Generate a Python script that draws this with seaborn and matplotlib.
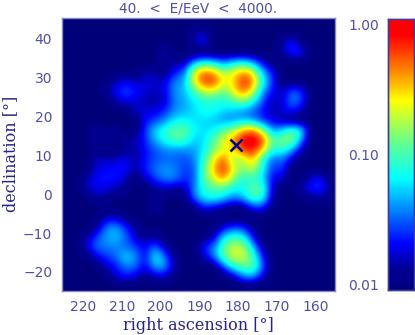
import matplotlib
matplotlib.use('Agg')
import matplotlib.pyplot as plt
import seaborn as sns
from matplotlib.colors import LinearSegmentedColormap

# density on a 2.5 deg grid, as percent of the log colour scale
row_00 = [0, 0, 0, 0, 0, 0, 0, 0, 0, 0, 0, 0, 0, 0, 0, 0, 0, 0, 0, 0, 0, 0, 0, 0, 0, 0, 0, 0]
row_01 = [0, 0, 0, 0, 0, 0, 0, 0, 0, 0, 0, 0, 0, 8, 14, 0, 0, 0, 0, 0, 0, 0, 0, 0, 0, 0, 0, 0]
row_02 = [0, 0, 0, 0, 0, 0, 0, 0, 0, 0, 0, 0, 0, 10, 20, 0, 0, 0, 0, 0, 0, 0, 8, 24, 0, 0, 0, 0]
row_03 = [0, 0, 0, 0, 0, 0, 0, 0, 0, 0, 16, 0, 0, 0, 0, 0, 0, 0, 0, 0, 0, 0, 8, 22, 22, 0, 0, 0]
row_04 = [0, 0, 0, 0, 0, 0, 0, 0, 0, 0, 8, 6, 8, 30, 40, 36, 26, 36, 40, 30, 14, 0, 0, 0, 0, 0, 0, 0]
row_05 = [0, 0, 0, 0, 0, 0, 0, 0, 10, 10, 0, 20, 24, 68, 84, 78, 60, 68, 80, 70, 34, 20, 0, 0, 0, 0, 0, 0]
row_06 = [0, 0, 0, 0, 0, 10, 18, 10, 14, 12, 14, 30, 32, 70, 90, 90, 70, 72, 92, 84, 45, 22, 0, 0, 0, 0, 0, 0]
row_07 = [0, 0, 0, 0, 8, 18, 24, 20, 14, 12, 14, 32, 34, 50, 65, 68, 52, 70, 85, 70, 32, 18, 10, 28, 22, 0, 0, 0]
row_08 = [0, 0, 0, 0, 0, 10, 18, 12, 10, 8, 12, 30, 32, 40, 44, 44, 44, 50, 60, 45, 24, 10, 12, 30, 24, 0, 0, 0]
row_09 = [0, 0, 0, 0, 0, 0, 0, 14, 14, 14, 20, 30, 34, 38, 44, 44, 38, 35, 30, 26, 18, 10, 14, 20, 12, 0, 0, 0]
row_10 = [0, 0, 0, 0, 0, 0, 0, 0, 18, 22, 30, 40, 42, 38, 38, 35, 30, 30, 34, 30, 20, 14, 8, 0, 0, 0, 0, 0]
row_11 = [0, 0, 0, 8, 0, 6, 0, 0, 22, 38, 46, 54, 54, 42, 38, 40, 52, 60, 78, 85, 62, 30, 38, 52, 44, 0, 0, 0]
row_12 = [0, 0, 0, 10, 10, 0, 12, 10, 20, 34, 44, 52, 50, 36, 38, 52, 68, 80, 97, 100, 92, 52, 58, 62, 30, 0, 0, 0]
row_13 = [0, 0, 0, 0, 0, 0, 8, 8, 18, 24, 30, 30, 30, 32, 40, 56, 66, 72, 90, 94, 76, 44, 48, 34, 12, 0, 0, 0]
row_14 = [0, 0, 0, 14, 12, 12, 16, 8, 18, 24, 26, 26, 24, 28, 46, 70, 88, 58, 62, 78, 46, 24, 28, 12, 0, 0, 0, 0]
row_15 = [0, 0, 0, 14, 16, 18, 20, 8, 20, 28, 32, 30, 22, 24, 52, 76, 92, 70, 56, 66, 44, 20, 24, 0, 0, 0, 0, 0]
row_16 = [0, 0, 10, 18, 20, 18, 12, 0, 12, 22, 30, 30, 20, 24, 52, 66, 82, 58, 44, 46, 40, 14, 14, 0, 0, 16, 20, 0]
row_17 = [0, 0, 12, 16, 14, 12, 6, 0, 0, 8, 10, 8, 8, 30, 46, 50, 50, 42, 42, 54, 52, 12, 0, 0, 12, 20, 22, 6]
row_18 = [0, 0, 0, 10, 6, 0, 0, 0, 0, 6, 0, 0, 0, 28, 40, 44, 38, 28, 34, 50, 46, 10, 0, 0, 0, 4, 8, 0]
row_19 = [0, 0, 0, 0, 0, 0, 0, 0, 0, 10, 0, 0, 0, 0, 18, 12, 6, 0, 0, 18, 20, 0, 0, 0, 0, 0, 0, 0]
row_20 = [0, 0, 0, 0, 12, 14, 4, 0, 0, 0, 0, 0, 0, 0, 0, 0, 0, 0, 0, 0, 0, 0, 0, 0, 0, 0, 0, 0]
row_21 = [0, 0, 0, 6, 30, 34, 22, 8, 0, 0, 0, 0, 0, 0, 0, 0, 16, 24, 22, 6, 0, 0, 0, 0, 0, 0, 0, 0]
row_22 = [0, 0, 8, 24, 32, 36, 28, 12, 6, 10, 0, 0, 0, 0, 0, 12, 40, 48, 46, 18, 0, 0, 0, 0, 0, 0, 0, 0]
row_23 = [0, 0, 14, 28, 28, 30, 26, 24, 14, 30, 12, 0, 0, 0, 22, 28, 52, 66, 64, 38, 8, 0, 0, 0, 0, 0, 0, 0]
row_24 = [0, 0, 0, 14, 22, 26, 40, 32, 14, 44, 30, 4, 0, 0, 12, 28, 52, 66, 66, 52, 20, 0, 0, 0, 0, 0, 0, 0]
row_25 = [0, 0, 0, 0, 12, 18, 28, 28, 14, 34, 34, 10, 0, 0, 0, 0, 24, 46, 52, 54, 28, 0, 0, 0, 0, 0, 0, 0]
row_26 = [0, 0, 0, 0, 0, 14, 20, 14, 4, 12, 14, 0, 0, 0, 0, 0, 0, 10, 30, 35, 14, 0, 0, 0, 0, 0, 0, 0]
row_27 = [0, 0, 0, 0, 0, 0, 0, 0, 0, 0, 0, 0, 0, 0, 0, 0, 0, 0, 0, 0, 0, 0, 0, 0, 0, 0, 0, 0]

levels = [row_00, row_01, row_02, row_03, row_04, row_05, row_06,
          row_07, row_08, row_09, row_10, row_11, row_12, row_13,
          row_14, row_15, row_16, row_17, row_18, row_19, row_20,
          row_21, row_22, row_23, row_24, row_25, row_26, row_27]

ra_ticks = [220, 210, 200, 190, 180, 170, 160]
dec_ticks = [40, 30, 20, 10, 0, -10, -20]
dec_labels = ['40', '30', '20', '10', '0', '\u221210', '\u221220']
cbar_ticks = [2, 50, 98]
cbar_labels = ['0.01', '0.10', '1.00']
source_ra = [180.5]
source_dec = [12.7]

ink = '#4f4fa6'
label_ink = '#24248c'
navy = '#00008c'
idl = LinearSegmentedColormap.from_list('idl', [
    (0.0, '#000078'), (0.03, navy), (0.07, navy), (0.17, '#0000ff'), (0.41, '#00ffff'),
    (0.54, '#60ff90'), (0.70, '#ffff00'), (0.80, '#ff9000'), (0.94, '#ff0000'), (1.0, '#ff0000')])

plt.rcParams['font.family'] = ['DejaVu Sans']
W, H = 415, 335
fig = plt.figure(figsize=(W / 100, H / 100), dpi=100)
ax = fig.add_axes([62 / W, 1 - 290.5 / H, 273 / W, 272.5 / H])
cax = fig.add_axes([387.5 / W, 1 - 290 / H, 26.5 / W, 271 / H])

sns.heatmap(levels, cmap=idl, vmin=0, vmax=100, ax=ax, cbar_ax=cax,
            xticklabels=False, yticklabels=False)

# the map is smooth in the original, so show the same cells with interpolation
mesh = ax.collections[0]
mesh.set_visible(False)
ax.imshow(levels, cmap=idl, vmin=0, vmax=100, interpolation='bicubic',
          extent=(225.4, 155.0, -24.8, 45.4), aspect='auto')
ax.set_xlim(225.4, 155.0)
ax.set_ylim(-24.8, 45.4)
ax.plot(source_ra, source_dec, 'x', color='#000080', ms=9, mew=1.8)

ax.set_xticks(ra_ticks)
ax.set_xticklabels([str(v) for v in ra_ticks])
ax.set_yticks(dec_ticks)
ax.set_yticklabels(dec_labels)
ax.tick_params(length=0, labelsize=10, colors=ink, pad=7)
for s in ax.spines.values():
    s.set_visible(True)
    s.set_color('#8a8ac4')
    s.set_linewidth(1)

ax.set_xlabel('right ascension [\u00b0]', color=label_ink, fontsize=11.5,
              family='DejaVu Serif', labelpad=2)
ax.set_ylabel('declination [\u00b0]', color=label_ink, fontsize=11.5,
              family='DejaVu Serif', labelpad=3)
ax.set_title('40.  <  E/EeV  <  4000.', color=ink, fontsize=9.8, pad=4)

cax.yaxis.set_ticks_position('left')
cax.set_yticks(cbar_ticks)
cax.set_yticklabels(cbar_labels)
cax.tick_params(length=0, labelsize=10, colors=ink, pad=6)
for s in cax.spines.values():
    s.set_visible(True)
    s.set_color('#3c3ca0')
    s.set_linewidth(1)

fig.savefig('out.png', dpi=100)
plt.close()
